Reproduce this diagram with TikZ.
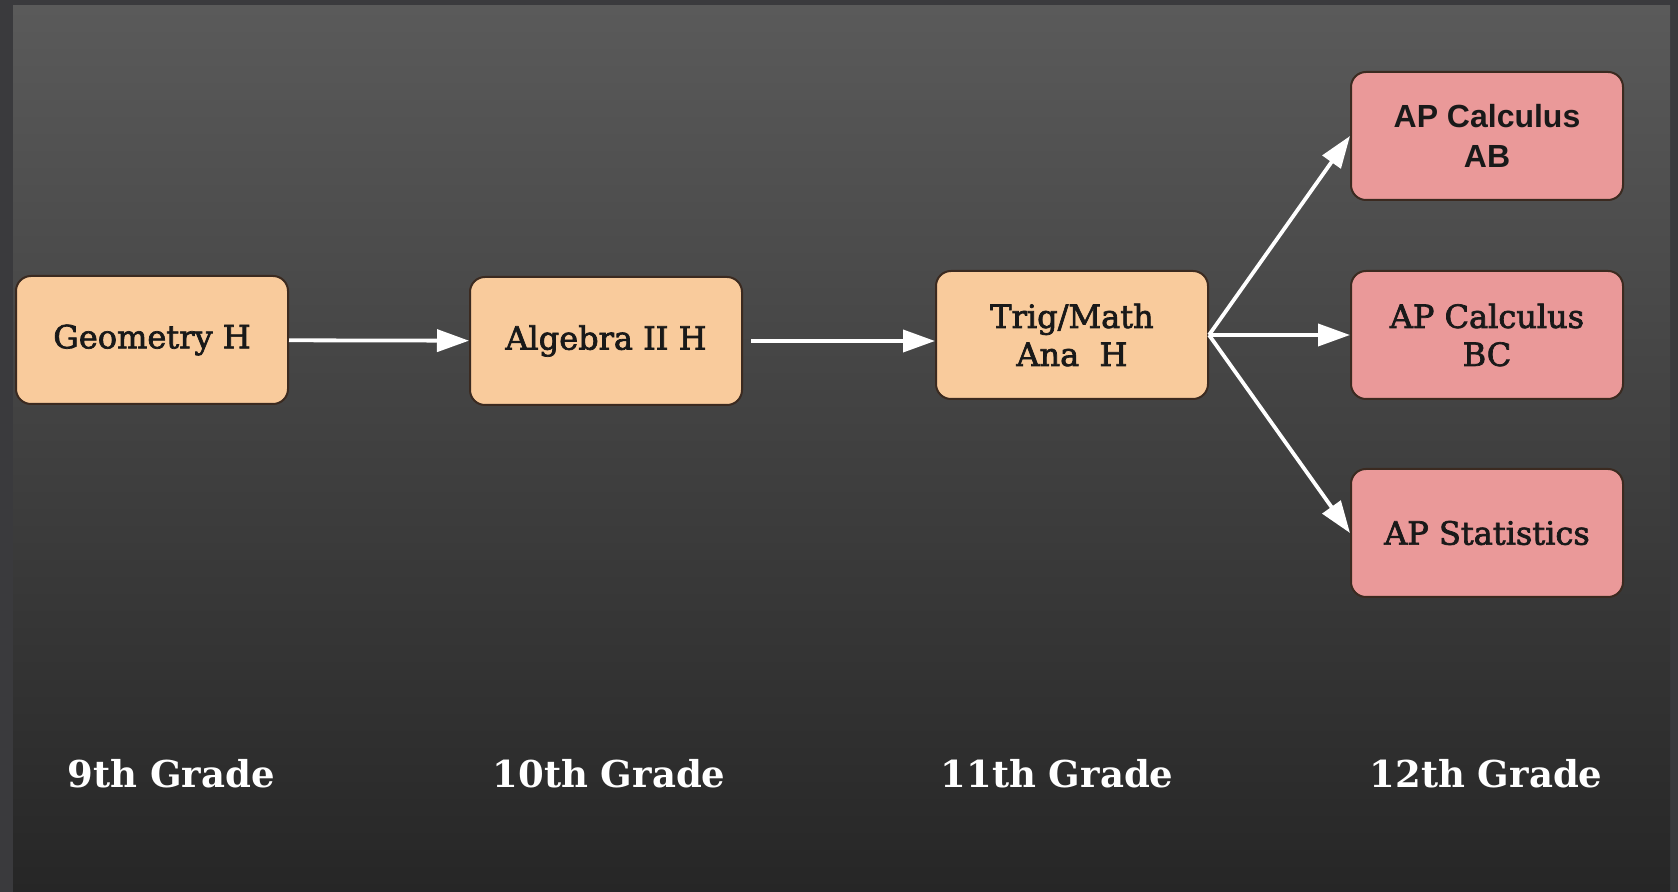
\documentclass[tikz,border=0pt]{standalone}
\usepackage{fontspec}
\setmainfont{DejaVu Serif}
\newfontface\boxserif{DejaVu Serif}[FakeBold=2.2]
\newfontfamily\apsans{Liberation Sans}
\usetikzlibrary{arrows.meta, positioning}
\definecolor{peach}{HTML}{F9CB9C}
\definecolor{aprose}{HTML}{EA9999}
\definecolor{boxedge}{HTML}{3B2A20}
\definecolor{frameout}{HTML}{3A3A3D}
\definecolor{paneltop}{HTML}{5A5A5A}
\definecolor{panelbottom}{HTML}{262626}
\tikzset{
  coursebox/.style={draw=boxedge, line width=1pt, fill=peach, rounded corners=7.5pt,
    minimum width=136pt, minimum height=64pt, align=center, inner sep=2pt,
    font=\boxserif\fontsize{16}{19}\selectfont, text=black!90},
  apbox/.style={coursebox, fill=aprose},
  gradelabel/.style={text=white, font=\fontsize{18.5}{22}\selectfont\bfseries},
  flow/.style={draw=white, line width=1.9pt, -{Triangle[length=16pt, width=11pt]}}
}

\begin{document}
\begin{tikzpicture}[x=0.5pt, y=-0.5pt]
  % backdrop and shaded panel
  \fill[frameout] (0,0) rectangle (1678,892);
  \shade[top color=paneltop, bottom color=panelbottom] (13,6) rectangle (1670,892);
  \useasboundingbox (0,0) rectangle (1678,892);

  \node[coursebox] (geo) at (152,340) {Geometry H};
  \node[coursebox] (alg) at (606,341) {Algebra II H};
  \node[coursebox] (trig) at (1072,335) {Trig/Math\\Ana\ \ H};
  \node[apbox, font=\apsans\fontsize{16}{20}\selectfont\bfseries] (calcab) at (1487,136) {AP Calculus\\AB};
  \node[apbox] (calcbc) at (1487,335) {AP Calculus\\BC};
  \node[apbox] (stats) at (1487,533) {AP Statistics};

  \draw[flow] (geo) -- (alg);
  \draw[flow, shorten <=4pt] (alg.east) -- (alg.east -| trig.west);
  \draw[flow] (trig.east) -- (calcab.west);
  \draw[flow] (trig.east) -- (calcbc.west);
  \draw[flow] (trig.east) -- (stats.west);

  \node[gradelabel] (g9) at (171,774) {9th Grade};
  \node[gradelabel] (g10) at (609,774) {10th Grade};
  \node[gradelabel] (g11) at (1057,774) {11th Grade};
  \node[gradelabel] (g12) at (1486,774) {12th Grade};
\end{tikzpicture}
\end{document}
